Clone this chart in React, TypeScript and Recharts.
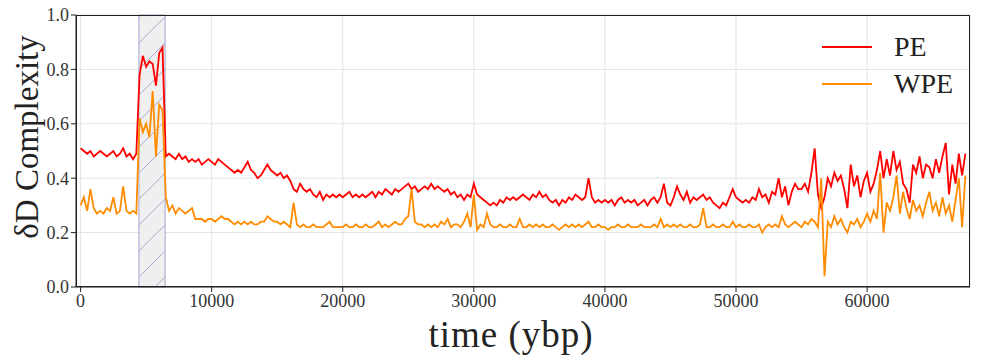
import React from 'react';
import {
  LineChart,
  Line,
  XAxis,
  YAxis,
  CartesianGrid,
  ReferenceArea,
} from 'recharts';

const STEP = 250;

const peValues = [
  0.51, 0.50, 0.49, 0.50, 0.48, 0.49, 0.50, 0.49, 0.48, 0.49, 0.50, 0.48, 0.49, 0.51, 0.48, 0.49, 0.47, 0.49, 0.78, 0.85,
  0.81, 0.83, 0.82, 0.74, 0.86, 0.88, 0.48, 0.49, 0.48, 0.47, 0.49, 0.47, 0.48, 0.46, 0.47, 0.46, 0.47, 0.45, 0.46, 0.47,
  0.46, 0.45, 0.47, 0.46, 0.45, 0.44, 0.43, 0.42, 0.43, 0.42, 0.44, 0.46, 0.43, 0.42, 0.40, 0.41, 0.43, 0.45, 0.43, 0.42,
  0.41, 0.42, 0.40, 0.41, 0.39, 0.36, 0.35, 0.38, 0.36, 0.35, 0.36, 0.34, 0.33, 0.35, 0.32, 0.34, 0.33, 0.34, 0.33, 0.34,
  0.33, 0.34, 0.35, 0.33, 0.34, 0.33, 0.34, 0.33, 0.34, 0.35, 0.33, 0.35, 0.34, 0.36, 0.35, 0.34, 0.36, 0.35, 0.36, 0.37,
  0.38, 0.36, 0.37, 0.35, 0.36, 0.37, 0.36, 0.38, 0.36, 0.37, 0.36, 0.35, 0.36, 0.34, 0.35, 0.33, 0.34, 0.32, 0.34, 0.33,
  0.38, 0.34, 0.33, 0.32, 0.31, 0.30, 0.31, 0.30, 0.32, 0.31, 0.33, 0.32, 0.33, 0.32, 0.33, 0.34, 0.33, 0.32, 0.34, 0.33,
  0.35, 0.33, 0.34, 0.32, 0.31, 0.32, 0.30, 0.32, 0.31, 0.33, 0.32, 0.34, 0.33, 0.32, 0.33, 0.40, 0.33, 0.31, 0.32, 0.31,
  0.32, 0.31, 0.32, 0.30, 0.32, 0.33, 0.31, 0.32, 0.31, 0.32, 0.30, 0.31, 0.32, 0.30, 0.32, 0.33, 0.31, 0.33, 0.38, 0.31,
  0.30, 0.33, 0.37, 0.34, 0.32, 0.35, 0.31, 0.33, 0.32, 0.33, 0.34, 0.32, 0.33, 0.31, 0.30, 0.29, 0.31, 0.30, 0.33, 0.36,
  0.33, 0.32, 0.31, 0.32, 0.31, 0.33, 0.32, 0.36, 0.33, 0.34, 0.31, 0.35, 0.34, 0.40, 0.33, 0.37, 0.30, 0.35, 0.38, 0.36,
  0.36, 0.38, 0.35, 0.42, 0.51, 0.34, 0.29, 0.33, 0.40, 0.37, 0.42, 0.39, 0.41, 0.36, 0.29, 0.45, 0.37, 0.41, 0.33, 0.39,
  0.42, 0.35, 0.38, 0.43, 0.50, 0.40, 0.47, 0.41, 0.50, 0.43, 0.46, 0.38, 0.36, 0.31, 0.45, 0.42, 0.48, 0.40, 0.45, 0.44,
  0.40, 0.47, 0.42, 0.48, 0.53, 0.34, 0.45, 0.38, 0.49, 0.41, 0.49,
];

const wpeValues = [
  0.30, 0.33, 0.28, 0.36, 0.29, 0.27, 0.28, 0.27, 0.29, 0.28, 0.33, 0.27, 0.28, 0.37, 0.28, 0.27, 0.28, 0.27, 0.62, 0.57,
  0.60, 0.55, 0.72, 0.48, 0.67, 0.65, 0.33, 0.28, 0.30, 0.27, 0.29, 0.28, 0.27, 0.28, 0.29, 0.25, 0.25, 0.25, 0.24, 0.25,
  0.25, 0.24, 0.25, 0.26, 0.25, 0.25, 0.24, 0.23, 0.24, 0.23, 0.24, 0.23, 0.24, 0.23, 0.23, 0.24, 0.24, 0.26, 0.25, 0.24,
  0.24, 0.23, 0.24, 0.23, 0.22, 0.31, 0.23, 0.22, 0.23, 0.22, 0.22, 0.23, 0.22, 0.22, 0.22, 0.23, 0.24, 0.22, 0.22, 0.22,
  0.22, 0.23, 0.22, 0.22, 0.23, 0.22, 0.22, 0.23, 0.22, 0.22, 0.23, 0.24, 0.22, 0.23, 0.22, 0.23, 0.24, 0.23, 0.23, 0.25,
  0.26, 0.36, 0.24, 0.23, 0.23, 0.22, 0.23, 0.22, 0.23, 0.22, 0.24, 0.23, 0.25, 0.22, 0.23, 0.23, 0.22, 0.24, 0.27, 0.22,
  0.34, 0.21, 0.23, 0.22, 0.27, 0.23, 0.22, 0.22, 0.23, 0.22, 0.22, 0.23, 0.22, 0.22, 0.25, 0.22, 0.22, 0.23, 0.22, 0.23,
  0.22, 0.23, 0.22, 0.22, 0.23, 0.22, 0.21, 0.22, 0.23, 0.22, 0.23, 0.22, 0.23, 0.22, 0.23, 0.24, 0.22, 0.22, 0.23, 0.22,
  0.22, 0.21, 0.22, 0.22, 0.23, 0.22, 0.22, 0.23, 0.22, 0.22, 0.22, 0.23, 0.22, 0.22, 0.22, 0.23, 0.22, 0.25, 0.22, 0.23,
  0.22, 0.23, 0.22, 0.23, 0.22, 0.22, 0.23, 0.22, 0.22, 0.23, 0.29, 0.22, 0.22, 0.23, 0.22, 0.22, 0.23, 0.22, 0.22, 0.24,
  0.22, 0.23, 0.22, 0.22, 0.23, 0.22, 0.22, 0.23, 0.20, 0.22, 0.23, 0.22, 0.23, 0.22, 0.26, 0.23, 0.22, 0.23, 0.24, 0.23,
  0.22, 0.24, 0.23, 0.25, 0.24, 0.22, 0.40, 0.04, 0.24, 0.22, 0.26, 0.23, 0.25, 0.22, 0.20, 0.24, 0.23, 0.25, 0.22, 0.24,
  0.27, 0.24, 0.28, 0.25, 0.42, 0.20, 0.31, 0.28, 0.33, 0.41, 0.27, 0.35, 0.29, 0.25, 0.32, 0.28, 0.30, 0.26, 0.31, 0.35,
  0.28, 0.31, 0.26, 0.33, 0.27, 0.30, 0.24, 0.32, 0.40, 0.22, 0.41,
];

const xTicks = [0, 10000, 20000, 30000, 40000, 50000, 60000];
const yTicks = [0, 0.2, 0.4, 0.6, 0.8, 1.0];
const shaded = [4450, 6450];
const series = [
  { key: 'pe', name: 'PE', color: '#ff0000' },
  { key: 'wpe', name: 'WPE', color: '#ff8c00' },
];

const data = peValues.map((pe, i) => ({ t: i * STEP, pe, wpe: wpeValues[i] }));

const FONT = '"Liberation Serif", "DejaVu Serif", serif';

export default function App() {
  return (
    <div style={{ position: 'absolute', left: 0, top: 0, width: 982, height: 361, background: '#fff' }}>
      <LineChart width={982} height={361} data={data} margin={{ top: 15, right: 12, left: 0, bottom: 0 }}>
        <defs>
          <pattern id="hatch" width="26" height="26" patternUnits="userSpaceOnUse">
            <rect width="26" height="26" fill="#efefef" />
            <line x1="0" y1="26" x2="26" y2="0" stroke="#a4a4d0" strokeWidth="0.9" />
          </pattern>
        </defs>
        <CartesianGrid stroke="#e3e3e3" strokeWidth={1} />
        <ReferenceArea
          x1={shaded[0]}
          x2={shaded[1]}
          y1={0}
          y2={1}
          fill="url(#hatch)"
          fillOpacity={1}
          stroke="#a4a4d0"
          strokeWidth={1}
        />
        <XAxis
          dataKey="t"
          type="number"
          domain={[-350, 67850]}
          ticks={xTicks}
          allowDataOverflow
          height={74}
          tickSize={5}
          stroke="#222"
          tick={{ fontFamily: FONT, fontSize: 18, fill: '#333' }}
          label={{ value: 'time (ybp)', position: 'insideBottom', offset: 14, dx: -12, style: { fontFamily: FONT, fontSize: 37, fill: '#222', letterSpacing: 1 } }}
        />
        <YAxis
          type="number"
          domain={[0, 1]}
          ticks={yTicks}
          width={76}
          tickSize={5}
          stroke="#222"
          tickFormatter={(v: number) => v.toFixed(1)}
          tick={{ fontFamily: FONT, fontSize: 18, fill: '#333' }}
          label={{ value: 'δD Complexity', angle: -90, position: 'insideLeft', offset: 26, dy: -14, style: { fontFamily: FONT, fontSize: 33, fill: '#222', textAnchor: 'middle' } }}
        />
        {series.map((s) => (
          <Line
            key={s.key}
            dataKey={s.key}
            name={s.name}
            stroke={s.color}
            strokeWidth={1.8}
            dot={false}
            isAnimationActive={false}
          />
        ))}
      </LineChart>
      <div
        style={{
          position: 'absolute',
          left: 76,
          top: 15,
          width: 894,
          height: 272,
          border: '1.2px solid #222',
          boxSizing: 'border-box',
          pointerEvents: 'none',
        }}
      />
      <div style={{ position: 'absolute', left: 822, top: 28, fontFamily: FONT, fontSize: 28, color: '#222' }}>
        {series.map((s) => (
          <div key={s.key} style={{ display: 'flex', alignItems: 'center', height: 37 }}>
            <div style={{ width: 50, height: 2, background: s.color, marginRight: 22 }} />
            <span>{s.name}</span>
          </div>
        ))}
      </div>
    </div>
  );
}
